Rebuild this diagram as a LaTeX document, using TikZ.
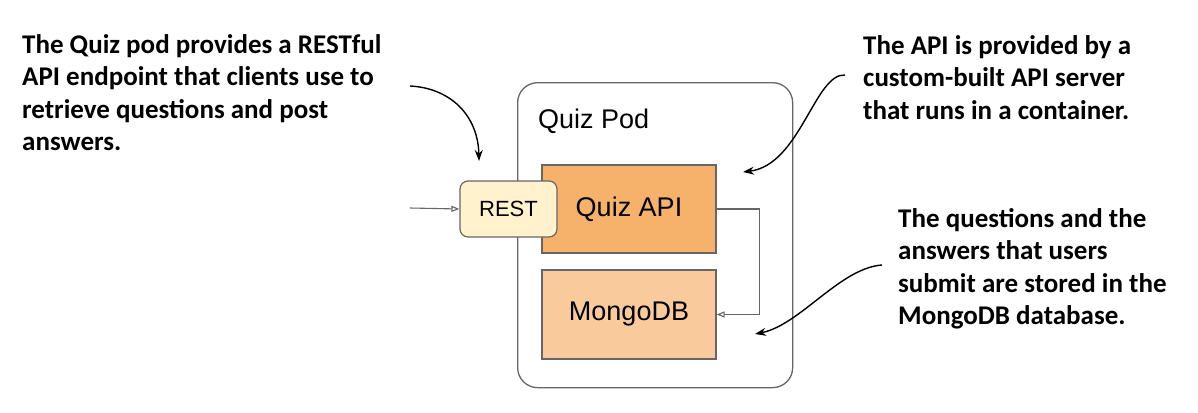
\documentclass[tikz,border=0pt]{standalone}
\usepackage{fontspec}
\setmainfont{Liberation Sans}
\newfontfamily\notefont{Carlito}
\usetikzlibrary{arrows.meta}
\definecolor{linegray}{HTML}{666666}
\definecolor{apiorange}{HTML}{F6B26B}
\definecolor{mongoorange}{HTML}{F9CB9C}
\definecolor{restyellow}{HTML}{FFF2CC}
\begin{document}
\begin{tikzpicture}[x=1pt,y=1pt,
  note/.style={font=\notefont\bfseries\fontsize{27}{32.6}\selectfont, align=left, anchor=north west, inner sep=0pt},
  box/.style={draw=linegray, line width=1.2pt, minimum width=174pt, minimum height=88pt, font=\fontsize{27}{32}\selectfont, inner sep=0pt},
  pod/.style={draw=linegray, line width=1.3pt, rounded corners=20pt},
  restbox/.style={draw=linegray, line width=1.2pt, fill=restyellow, rounded corners=8pt, minimum width=97pt, minimum height=56pt, inner sep=0pt, font=\fontsize{22}{26}\selectfont},
  conn/.style={draw=linegray, line width=1.1pt, -{Triangle[open,length=8pt,width=6pt]}},
  callout/.style={draw=black, line width=1.4pt, -{Stealth[length=11pt,width=8pt]}}]
\useasboundingbox (0,0) rectangle (1198,-412);
\node[pod, minimum width=275pt, minimum height=305pt, anchor=north west, inner sep=0pt] (pod) at (517,-82) {};
\node[anchor=base west, font=\fontsize{27}{32}\selectfont, inner sep=0pt] (podlabel) at (538,-128) {Quiz Pod};
\node[box, fill=apiorange] (api) at (629,-209) {Quiz API};
\node[box, fill=mongoorange, minimum height=89pt] (mongo) at (629,-314.5) {MongoDB};
\node[restbox] (rest) at (508.5,-209) {REST};
\coordinate (in) at (410,-208);
\draw[conn] (in) -- (rest.west);
\draw[conn] (api.east) -- ++(43,0) |- (mongo.east);
\node[note] (t1) at (22,-34) {The Quiz pod provides a RESTful\\API endpoint that clients use to\\retrieve questions and post\\answers.};
\node[note] (t2) at (863,-35) {The API is provided by a\\custom-built API server\\that runs in a container.};
\node[note] (t3) at (898,-208) {The questions and the\\answers that users\\submit are stored in the\\MongoDB database.};
\coordinate (c1s) at (410,-86);
\coordinate (c1e) at (479,-161);
\coordinate (c2s) at (845,-75);
\coordinate (c2e) at (743,-172);
\coordinate (c3s) at (882,-265);
\coordinate (c3e) at (755,-334);
\draw[callout] (c1s) .. controls (450,-88) and (478,-115) .. (c1e);
\draw[callout] (c2s) .. controls (815,-73) and (800,-165) .. (c2e);
\draw[callout] (c3s) .. controls (840,-268) and (800,-325) .. (c3e);
\end{tikzpicture}
\end{document}
